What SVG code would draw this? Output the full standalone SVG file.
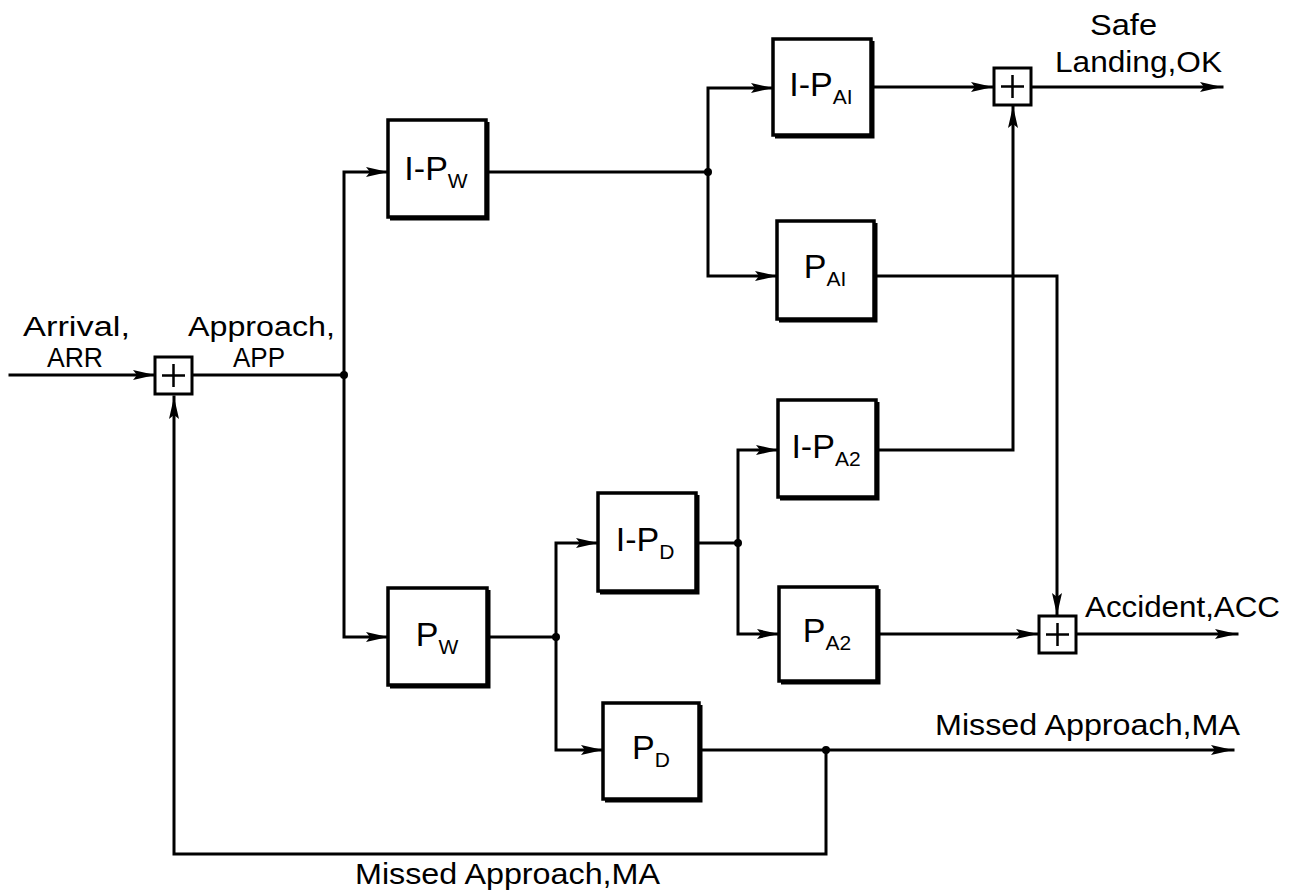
<svg xmlns="http://www.w3.org/2000/svg" width="1292" height="895" viewBox="0 0 1292 895">
  <defs>
    <style>
      .line { fill: none; stroke: #000; stroke-width: 3; stroke-linejoin: miter; stroke-linecap: square; }
      .box { fill: #fff; stroke: #000; stroke-width: 3.5; }
      .shade { fill: none; stroke: #000; stroke-width: 3; }
      .sum { fill: #fff; stroke: #000; stroke-width: 3; }
      .plus { stroke: #000; stroke-width: 2.5; }
      .lbl { font-family: "Liberation Sans", Arial, sans-serif; font-size: 30px; fill: #000; }
      .lbl2 { font-family: "Liberation Sans", Arial, sans-serif; font-size: 27px; fill: #000; }
      .blk { font-family: "Liberation Sans", Arial, sans-serif; font-size: 34px; fill: #000; text-anchor: middle; }
      .sub { font-size: 21px; }
      .dot { fill: #000; }
    </style>
    <marker id="arrow" markerUnits="userSpaceOnUse" markerWidth="24" markerHeight="12" refX="22" refY="6" orient="auto">
      <path d="M0,1 L22,6 L0,11 L4,6 Z" fill="#000"/>
    </marker>
  </defs>

  <!-- signal paths -->
  <g id="connectors">
    <path class="line" d="M10,375 H155" marker-end="url(#arrow)"/>
    <path class="line" d="M192,375 H344"/>
    <path class="line" d="M344,375 V172 H388" marker-end="url(#arrow)"/>
    <path class="line" d="M344,375 V637 H388" marker-end="url(#arrow)"/>
    <path class="line" d="M487,172 H708"/>
    <path class="line" d="M708,172 V88 H773" marker-end="url(#arrow)"/>
    <path class="line" d="M708,172 V276 H777" marker-end="url(#arrow)"/>
    <path class="line" d="M872,87 H993" marker-end="url(#arrow)"/>
    <path class="line" d="M1031,87 H1222" marker-end="url(#arrow)"/>
    <path class="line" d="M875,276 H1057 V615" marker-end="url(#arrow)"/>
    <path class="line" d="M877,450 H1013 V106" marker-end="url(#arrow)"/>
    <path class="line" d="M488,637 H556"/>
    <path class="line" d="M556,637 V543 H598" marker-end="url(#arrow)"/>
    <path class="line" d="M556,637 V750 H603" marker-end="url(#arrow)"/>
    <path class="line" d="M697,543 H738"/>
    <path class="line" d="M738,543 V450 H778" marker-end="url(#arrow)"/>
    <path class="line" d="M738,543 V634 H779" marker-end="url(#arrow)"/>
    <path class="line" d="M878,634 H1038" marker-end="url(#arrow)"/>
    <path class="line" d="M1076,634 H1237" marker-end="url(#arrow)"/>
    <path class="line" d="M700,750 H1233" marker-end="url(#arrow)"/>
    <path class="line" d="M826,750 V854 H174 V397" marker-end="url(#arrow)"/>
    <circle class="dot" cx="344" cy="375" r="4"/>
    <circle class="dot" cx="708" cy="172" r="4"/>
    <circle class="dot" cx="556" cy="637" r="4"/>
    <circle class="dot" cx="738" cy="543" r="4"/>
    <circle class="dot" cx="826" cy="750" r="4"/>
  </g>

  <!-- summing junctions -->
  <g id="sum-arrival">
    <rect class="sum" x="155" y="357" width="37" height="37"/>
    <path class="plus" d="M173.5,364 V387 M162,375.5 H185"/>
  </g>
  <g id="sum-ok">
    <rect class="sum" x="994" y="68" width="37" height="37"/>
    <path class="plus" d="M1012.5,75 V98 M1001,86.5 H1024"/>
  </g>
  <g id="sum-acc">
    <rect class="sum" x="1039" y="616" width="37" height="37"/>
    <path class="plus" d="M1057.5,623 V646 M1046,634.5 H1069"/>
  </g>

  <!-- transfer blocks -->
  <g id="block-1-pw">
    <rect class="box" x="388" y="120" width="98" height="97"/>
    <path class="shade" d="M488,122 V219 H390"/>
    <text class="blk" x="436" y="180">I-P<tspan class="sub" dy="8">W</tspan></text>
  </g>
  <g id="block-pw">
    <rect class="box" x="388" y="588" width="99" height="97"/>
    <path class="shade" d="M489,590 V687 H390"/>
    <text class="blk" x="437" y="646">P<tspan class="sub" dy="8">W</tspan></text>
  </g>
  <g id="block-1-pa1">
    <rect class="box" x="773" y="39" width="98" height="96"/>
    <path class="shade" d="M873,41 V137 H775"/>
    <text class="blk" x="821" y="96">I-P<tspan class="sub" dy="8">AI</tspan></text>
  </g>
  <g id="block-pa1">
    <rect class="box" x="777" y="221" width="97" height="98"/>
    <path class="shade" d="M876,223 V321 H779"/>
    <text class="blk" x="825" y="278">P<tspan class="sub" dy="8">AI</tspan></text>
  </g>
  <g id="block-1-pa2">
    <rect class="box" x="778" y="400" width="98" height="97"/>
    <path class="shade" d="M878,402 V499 H780"/>
    <text class="blk" x="826" y="458">I-P<tspan class="sub" dy="8">A2</tspan></text>
  </g>
  <g id="block-pa2">
    <rect class="box" x="779" y="587" width="98" height="94"/>
    <path class="shade" d="M879,589 V683 H781"/>
    <text class="blk" x="827" y="642">P<tspan class="sub" dy="8">A2</tspan></text>
  </g>
  <g id="block-1-pd">
    <rect class="box" x="598" y="493" width="98" height="98"/>
    <path class="shade" d="M698,495 V593 H600"/>
    <text class="blk" x="645" y="551">I-P<tspan class="sub" dy="8">D</tspan></text>
  </g>
  <g id="block-pd">
    <rect class="box" x="603" y="703" width="96" height="96"/>
    <path class="shade" d="M701,705 V801 H605"/>
    <text class="blk" x="651" y="759">P<tspan class="sub" dy="8">D</tspan></text>
  </g>

  <!-- signal labels -->
  <g id="labels">
    <text class="lbl2" x="23" y="336" textLength="107" lengthAdjust="spacingAndGlyphs">Arrival,</text>
    <text class="lbl2" x="47" y="367" textLength="56" lengthAdjust="spacingAndGlyphs">ARR</text>
    <text class="lbl2" x="188" y="336" textLength="147" lengthAdjust="spacingAndGlyphs">Approach,</text>
    <text class="lbl2" x="233" y="367" textLength="52" lengthAdjust="spacingAndGlyphs">APP</text>
    <text class="lbl" x="1090" y="35" textLength="67" lengthAdjust="spacingAndGlyphs">Safe</text>
    <text class="lbl" x="1055" y="72" textLength="167" lengthAdjust="spacingAndGlyphs">Landing,OK</text>
    <text class="lbl" x="1085" y="617" textLength="195" lengthAdjust="spacingAndGlyphs">Accident,ACC</text>
    <text class="lbl" x="935" y="735" textLength="305" lengthAdjust="spacingAndGlyphs">Missed Approach,MA</text>
    <text class="lbl" x="355" y="884" textLength="305" lengthAdjust="spacingAndGlyphs">Missed Approach,MA</text>
  </g>
</svg>
